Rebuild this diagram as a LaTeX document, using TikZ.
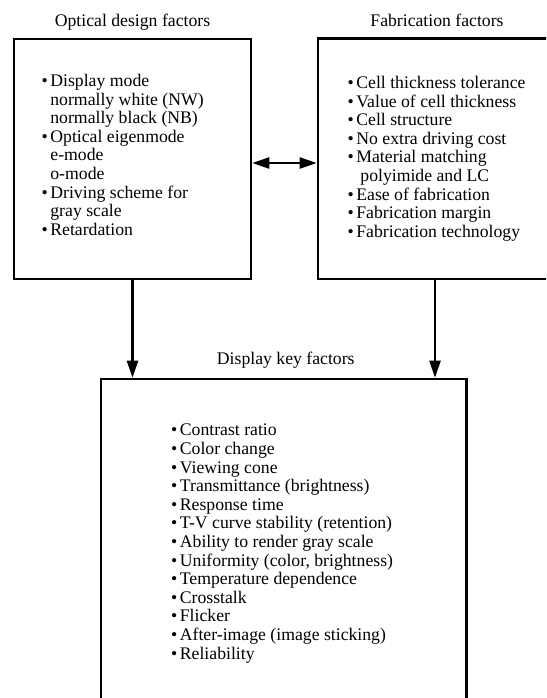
\documentclass[tikz,border=0pt]{standalone}
\usepackage{fontspec}
\setmainfont{Liberation Serif}
\usetikzlibrary{positioning}
\usetikzlibrary{arrows.meta}

\newcommand{\itm}{\textbullet\hspace{2.5pt}}
\newcommand{\subitm}{\phantom{\textbullet}\hspace{2.5pt}}

\begin{document}
\begin{tikzpicture}[
    x=1pt,y=-1pt,
    box/.style={rectangle,draw=black,line width=2.6pt,inner sep=0pt},
    list/.style={anchor=north west,align=left,inner sep=0pt,font=\fontsize{17.7}{18.6}\selectfont},
    title/.style={inner sep=0pt,anchor=base,font=\fontsize{17.7}{18.6}\selectfont},
    arr/.style={line width=2.4pt,-{Triangle[length=17pt,width=11pt]}},
    darr/.style={line width=2.4pt,{Triangle[length=17pt,width=11pt]}-{Triangle[length=17pt,width=11pt]}}
    ]
    \useasboundingbox (0,0) rectangle (546,698);
    \clip (0,0) rectangle (546,698);
    \node (obox) [box,minimum width=237pt,minimum height=240pt] at (132.5,159) {};
    \node (fbox) [box,minimum width=242pt,minimum height=240.5pt] at (439,158.75) {};
    \node (dbox) [box,minimum width=365.5pt,minimum height=322pt] at (283.75,540) {};
    \node (olist) [list] at (41.5,74)
        {\itm Display mode\\
         \subitm normally white (NW)\\
         \subitm normally black (NB)\\
         \itm Optical eigenmode\\
         \subitm e-mode\\
         \subitm o-mode\\
         \itm Driving scheme for\\
         \subitm gray scale\\
         \itm Retardation};
    \node (flist) [list] at (347.5,76)
        {\itm Cell thickness tolerance\\
         \itm Value of cell thickness\\
         \itm Cell structure\\
         \itm No extra driving cost\\
         \itm Material matching\\
         \subitm\hspace{4pt}polyimide and LC\\
         \itm Ease of fabrication\\
         \itm Fabrication margin\\
         \itm Fabrication technology};
    \node (dlist) [list] at (171,424)
        {\itm Contrast ratio\\
         \itm Color change\\
         \itm Viewing cone\\
         \itm Transmittance (brightness)\\
         \itm Response time\\
         \itm T-V curve stability (retention)\\
         \itm Ability to render gray scale\\
         \itm Uniformity (color, brightness)\\
         \itm Temperature dependence\\
         \itm Crosstalk\\
         \itm Flicker\\
         \itm After-image (image sticking)\\
         \itm Reliability};
    \node (otitle) [title,above=10.7pt of obox.north,anchor=base] {Optical design factors};
    \node (ftitle) [title,above=10.7pt of fbox.north,anchor=base,xshift=-2pt] {Fabrication factors};
    \node (dtitle) [title,above=13.7pt of dbox.north,anchor=base,xshift=2pt] {Display key factors};
    \draw[darr] ([yshift=-4pt]obox.east) -- ([yshift=-4pt]obox.east -| fbox.west);
    \draw[arr] (obox.south) -- (obox.south |- dbox.north);
    \draw[arr] ([xshift=-4pt]fbox.south) -- ([xshift=-4pt]fbox.south |- dbox.north);
\end{tikzpicture}
\end{document}
